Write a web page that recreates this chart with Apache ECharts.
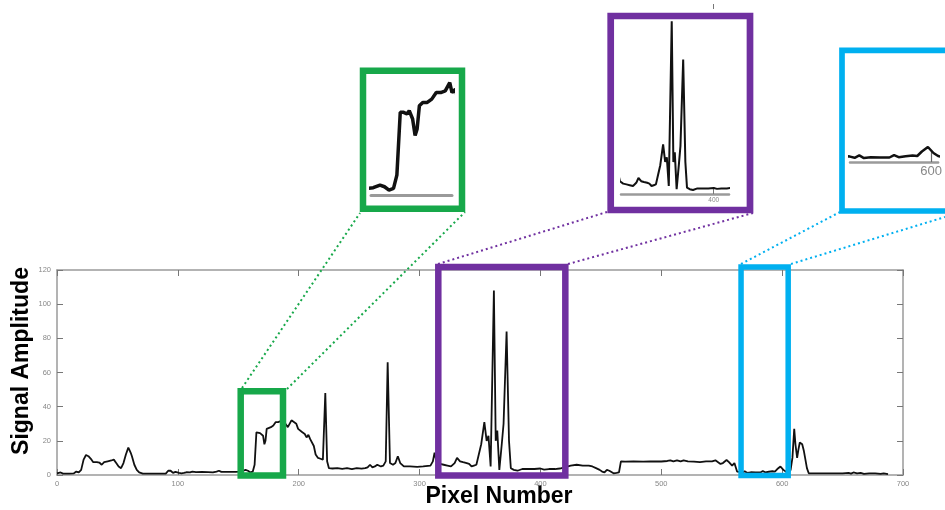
<!DOCTYPE html>
<html>
<head>
<meta charset="utf-8">
<script src="https://cdn.jsdelivr.net/npm/echarts@6/dist/echarts.min.js"></script>
<style>
  html, body { margin: 0; background: #fff; }
  #chart { width: 945px; height: 510px; }
</style>
</head>
<body>
<div id="chart"></div>
<script>
// signal trace
var pixel = [0, 3, 5, 10, 14, 16, 18, 20, 22, 24, 26, 28, 30, 33, 35, 37, 39, 42, 45, 47, 49, 51, 53, 55, 57, 59, 60, 61, 62, 64, 66, 68, 71, 80, 90, 92, 94, 96, 98, 101, 103, 105, 107, 110, 112, 115, 120, 125, 129, 132, 134, 136, 140, 145, 148, 151, 153, 156, 158, 160, 162, 163.5, 165, 166.5, 168, 169, 170.5, 171.6, 172.5, 173.5, 175, 177, 179, 181, 183, 185, 187, 188, 189.5, 191, 192.5, 194, 196, 198, 199.5, 201, 203, 205, 206.5, 208, 209.5, 211, 212.5, 214, 216, 218, 220, 221, 222, 223.5, 225, 228, 232, 236, 240, 244, 248, 252, 255, 257, 259, 261, 263, 265, 268, 270, 272, 273.6, 275.5, 278, 280, 282, 284, 287, 292, 298, 303, 309, 311, 312.4, 314, 317, 320, 323, 326, 329, 331, 333.5, 336, 339, 341, 343, 345, 347, 349, 351, 353.6, 355.5, 357, 358.8, 361.5, 363, 364.3, 366, 368, 369.5, 372, 374, 375.5, 378, 381, 385, 390, 395, 400, 403, 407, 412, 416, 420, 425, 430, 435, 440, 443, 446, 449, 451, 453, 455, 457, 460.5, 463, 465, 466.6, 470, 477, 485, 491, 500, 505, 507.5, 510, 513, 516, 518.5, 522, 527, 532, 537, 542, 544.8, 547, 549, 551, 554, 556, 558.6, 560.5, 562.7, 565, 567, 569, 571, 574, 578, 582, 584, 586, 589, 592, 594, 596, 598.6, 601, 603, 605.5, 607, 608.5, 610, 611, 612.4, 613.5, 614.6, 616.6, 618, 619, 620.5, 622, 630, 643, 650, 655, 657, 659, 662, 665, 667.7, 672, 677, 681.5, 684, 687.6];
var amplitude = [1, 1.5, 0.8, 0.8, 1, 2, 1.5, 3, 9, 11.7, 11, 9.5, 7.5, 7.5, 7.3, 6, 7.5, 8, 8.5, 9, 7, 5, 4, 7, 12, 16, 14.5, 13, 11, 6, 3, 1.5, 0.8, 0.8, 0.8, 2.5, 2.5, 1.2, 1.8, 1.2, 1, 1.2, 1.6, 1.5, 2, 1.7, 1.8, 1.7, 1.5, 2, 2.5, 1.8, 1.8, 1.8, 1.8, 2, 2.2, 3, 2.5, 1.5, 2, 6, 25, 25, 24.5, 25.5, 23, 18, 20, 27, 28, 28, 29, 31, 31, 31.5, 34, 31, 32, 28, 27, 32, 31, 30, 27, 26, 25, 24, 22, 23.5, 21, 20.5, 17, 12, 10, 9.5, 9, 10, 48, 8, 4, 3.8, 4, 3.6, 4, 3.5, 4, 3.7, 4, 4.5, 6, 4.5, 5, 6, 5, 5.5, 8, 66, 7, 6, 7, 11, 7, 5, 5, 4.8, 5, 5.5, 8, 13, 8, 6.5, 6, 5.5, 5, 7, 10, 8, 7.5, 7, 6.5, 5, 5.5, 6, 12, 18, 31, 20, 23, 5, 108, 20, 26, 3, 18, 30, 84, 20, 4, 3, 2.5, 3.5, 3.5, 3.5, 3.8, 3.2, 3.5, 3.5, 3.8, 4.5, 5.5, 6, 5.5, 5.5, 5, 4, 3, 2, 1.5, 3, 2.5, 1, 1.2, 1.5, 8, 7.8, 8, 7.8, 8, 7.9, 8.2, 8.6, 8, 8.6, 8, 8.6, 8, 7.8, 7.5, 8, 8, 8.6, 7.5, 6.5, 7, 8.8, 7.5, 5.5, 7, 2, 1.8, 1.4, 2.2, 1.3, 1.6, 1.5, 1.5, 2.3, 1.6, 1.9, 2.2, 2, 3.5, 5, 3, 2, 1.5, 3, 10, 27, 18, 10, 15, 19, 18, 14, 10, 4, 1, 1, 1, 1, 1.2, 0.8, 1.5, 1, 1.2, 0.7, 1, 1, 0.7, 1, 0.5];

// zoomed windows: [xmin, xmax, ymax]
var greenWin = [152, 187, 49];
var purpleWin = [315.5, 420.6, 121.8];
var blueWin = [566, 605, 121.8];

var GREEN = '#17a84a', PURPLE = '#7030a0', BLUE = '#00b0f0';
var GRAY = '#9a9a9a';

var trace = pixel.map(function (p, i) { return [p, amplitude[i]]; });

var chart = echarts.init(document.getElementById('chart'));

var tickLabel = { color: '#888', fontSize: 7.5, fontFamily: 'Liberation Sans' };
var boxLine = { show: true, onZero: false, lineStyle: { color: GRAY, width: 1.5 } };
var inTick = { show: true, inside: true, length: 6, lineStyle: { color: '#777', width: 1 } };

chart.setOption({
  animation: false,
  backgroundColor: '#fff',
  grid: [
    { left: 57, top: 270, width: 846, height: 205 },
    { left: 371, top: 76, width: 81, height: 119 },
    { left: 621, top: 18, width: 108, height: 176 },
    { left: 850, top: 72, width: 95, height: 90 }
  ],
  xAxis: [
    { gridIndex: 0, type: 'value', min: 0, max: 700, interval: 100, position: 'bottom',
      axisLine: boxLine, axisTick: inTick, splitLine: { show: false },
      axisLabel: Object.assign({ margin: 5 }, tickLabel) },
    { gridIndex: 0, type: 'value', min: 0, max: 700, interval: 100, position: 'top',
      axisLine: boxLine, axisTick: inTick, splitLine: { show: false }, axisLabel: { show: false } },
    { gridIndex: 1, type: 'value', min: 152, max: 188,
      axisLine: { onZero: false, lineStyle: { color: GRAY, width: 3 } }, axisTick: { show: false },
      axisLabel: { show: false }, splitLine: { show: false } },
    { gridIndex: 2, type: 'value', min: 315, max: 414,
      axisLine: { onZero: false, lineStyle: { color: GRAY, width: 2.5 } },
      axisTick: { show: true, inside: true, length: 5, customValues: [400], lineStyle: { color: '#777' } },
      axisLabel: { customValues: [400], color: '#888', fontSize: 6.5, margin: 3 },
      splitLine: { show: false } },
    { gridIndex: 2, type: 'value', min: 315, max: 414, position: 'top', offset: 14,
      axisLine: { show: false, onZero: false },
      axisTick: { show: true, inside: true, length: 5, customValues: [400], lineStyle: { color: '#777' } },
      axisLabel: { show: false }, splitLine: { show: false } },
    { gridIndex: 3, type: 'value', min: 565, max: 603,
      axisLine: { onZero: false, lineStyle: { color: GRAY, width: 2.5 } },
      axisTick: { show: true, inside: true, length: 11, customValues: [600], lineStyle: { color: '#666', width: 1.2 } },
      axisLabel: { customValues: [600], color: '#888', fontSize: 13, margin: 3 },
      splitLine: { show: false } }
  ],
  yAxis: [
    { gridIndex: 0, type: 'value', min: 0, max: 120, interval: 20, position: 'left',
      axisLine: boxLine, axisTick: inTick, splitLine: { show: false },
      axisLabel: Object.assign({ margin: 6 }, tickLabel) },
    { gridIndex: 0, type: 'value', min: 0, max: 120, interval: 20, position: 'right',
      axisLine: boxLine, axisTick: inTick, splitLine: { show: false }, axisLabel: { show: false } },
    { gridIndex: 1, type: 'value', min: 0, max: 36, show: false },
    { gridIndex: 2, type: 'value', min: 0, max: 110, show: false },
    { gridIndex: 3, type: 'value', min: 0, max: 30, show: false }
  ],
  series: [
    { type: 'line', xAxisIndex: 0, yAxisIndex: 0, data: trace, symbol: 'none',
      lineStyle: { color: '#111', width: 1.8 } },
    { type: 'line', xAxisIndex: 2, yAxisIndex: 2, data: trace, symbol: 'none',
      lineStyle: { color: '#111', width: 3.5 } },
    { type: 'line', xAxisIndex: 3, yAxisIndex: 3, data: trace, symbol: 'none',
      lineStyle: { color: '#111', width: 2 } },
    { type: 'line', xAxisIndex: 5, yAxisIndex: 4, data: trace, symbol: 'none',
      lineStyle: { color: '#111', width: 2.5 } }
  ]
});

function corner(x, y) {
  return chart.convertToPixel({ xAxisIndex: 0, yAxisIndex: 0 }, [x, y]);
}
function winRect(win, color, lw) {
  var a = corner(win[0], win[2]);
  var b = corner(win[1], 0);
  return { type: 'rect', z: 50, shape: { x: a[0], y: a[1], width: b[0] - a[0], height: b[1] - a[1] + 0.5 },
    style: { fill: null, stroke: color, lineWidth: lw } };
}
function frame(x1, y1, x2, y2, color, lw) {
  return { type: 'rect', z: 50, shape: { x: x1, y: y1, width: x2 - x1, height: y2 - y1 },
    style: { fill: null, stroke: color, lineWidth: lw } };
}
function dots(x1, y1, x2, y2, color) {
  return { type: 'line', z: 40, shape: { x1: x1, y1: y1, x2: x2, y2: y2 },
    style: { stroke: color, lineWidth: 2, lineDash: [2, 3] } };
}

chart.setOption({
  graphic: [
    winRect(greenWin, GREEN, 6.5),
    winRect(purpleWin, PURPLE, 6.5),
    winRect(blueWin, BLUE, 5.5),
    frame(363, 70.7, 462, 208.7, GREEN, 6.5),
    frame(610.7, 16, 750, 210, PURPLE, 6.7),
    frame(842, 50.3, 1000, 211, BLUE, 5.7),
    dots(242, 388, 360, 213, GREEN),
    dots(287, 389, 465, 212, GREEN),
    dots(438, 264, 607, 212, PURPLE),
    dots(568, 264, 753, 213, PURPLE),
    dots(741, 264, 840, 212, BLUE),
    dots(791, 264, 945, 217, BLUE),
    { type: 'text', x: 22, y: 361, rotation: Math.PI / 2,
      style: { text: 'Signal Amplitude', fontFamily: 'Liberation Sans', fontWeight: 'bold',
        fontSize: 23, fill: '#000', align: 'center', verticalAlign: 'middle' } },
    { type: 'text', x: 499, y: 497,
      style: { text: 'Pixel Number', fontFamily: 'Liberation Sans', fontWeight: 'bold',
        fontSize: 23, fill: '#000', align: 'center', verticalAlign: 'middle' } }
  ]
});
</script>
</body>
</html>
